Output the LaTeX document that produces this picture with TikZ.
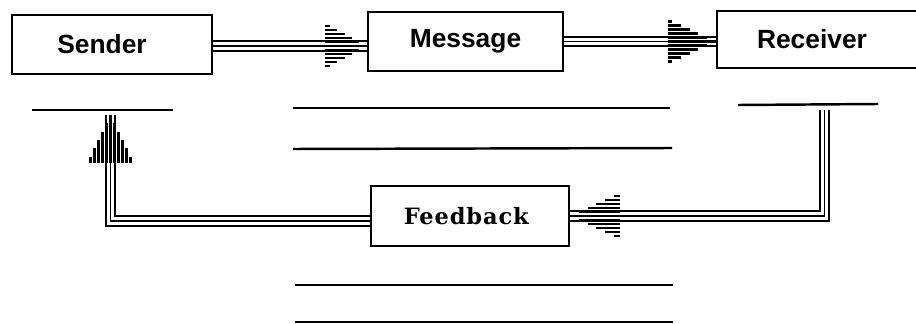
\documentclass[tikz,border=0pt]{standalone}
\usepackage{fontspec}
\newfontfamily\diasans{Liberation Sans}
\newfontfamily\diaserif[LetterSpace=4]{DejaVu Serif}
\usetikzlibrary{decorations.markings}
\newcommand\stripehead[2]{%
  \foreach \d in {-20,-16,...,20}{%
    \pgfmathsetmacro\xe{-#1*abs(\d)/(#2+2)}%
    \draw[black,line width=1.15pt] (-#1,\d) -- (\xe,\d);}}
\tikzset{
  box/.style={draw, line width=1.5pt, inner sep=0pt,
    font=\diasans\bfseries\fontsize{15}{18}\selectfont},
  fbbox/.style={draw, line width=1.5pt, inner sep=0pt,
    font=\diaserif\bfseries\fontsize{12.8}{15}\selectfont},
  rule/.style={line width=1.4pt},
  conn/.style={draw=white, line width=4.2pt, line join=miter,
    preaction={draw=black, line width=6.6pt},
    postaction={draw=black, line width=0.8pt}},
  head/.style 2 args={postaction={decorate, decoration={markings,
    mark=at position 1 with {\stripehead{#1}{#2}}}}}
}
\begin{document}
\begin{tikzpicture}[x=0.02cm, y=-0.02cm]
\useasboundingbox (0,0) rectangle (916,324);
\clip (0,0) rectangle (916,324);
% boxes
\node[box, minimum width=4cm, minimum height=1.18cm] (sender) at (112,44.5) {Sender\kern0.4cm\mbox{}};
\node[box, minimum width=3.9cm, minimum height=1.18cm] (message) at (465.5,41.5) {Message};
\node[box, minimum width=4cm, minimum height=1.14cm] (receiver) at (817,39.5) {Receiver\kern0.2cm\mbox{}};
\node[fbbox, minimum width=3.96cm, minimum height=1.2cm] (feedback) at (470,216) {Feedback\kern0.15cm\mbox{}};
% rules
\draw[rule] (32,110) -- (173,110);
\draw[rule] (738,105) -- (878,104);
\draw[rule] (293,108) -- (670,108);
\draw[rule] (293,149) -- (672,148);
\draw[rule] (295,285) -- (673,285);
\draw[rule] (295,322) -- (673,322);
% connectors
\coordinate (rstart) at (824.5,110);
\coordinate (stip) at (110.5,115);
\draw[conn, head={42}{21}] ([yshift=-0.03cm]sender.east) -- ([yshift=-0.03cm]sender.east -| message.west);
\draw[conn, head={48}{20}] (message.east) -- (message.east -| receiver.west);
\draw[conn, head={50}{21}] (rstart) |- (feedback.east);
\draw[conn, head={48}{21}] ([yshift=-0.1cm]feedback.west) -| (stip);
\end{tikzpicture}
\end{document}
